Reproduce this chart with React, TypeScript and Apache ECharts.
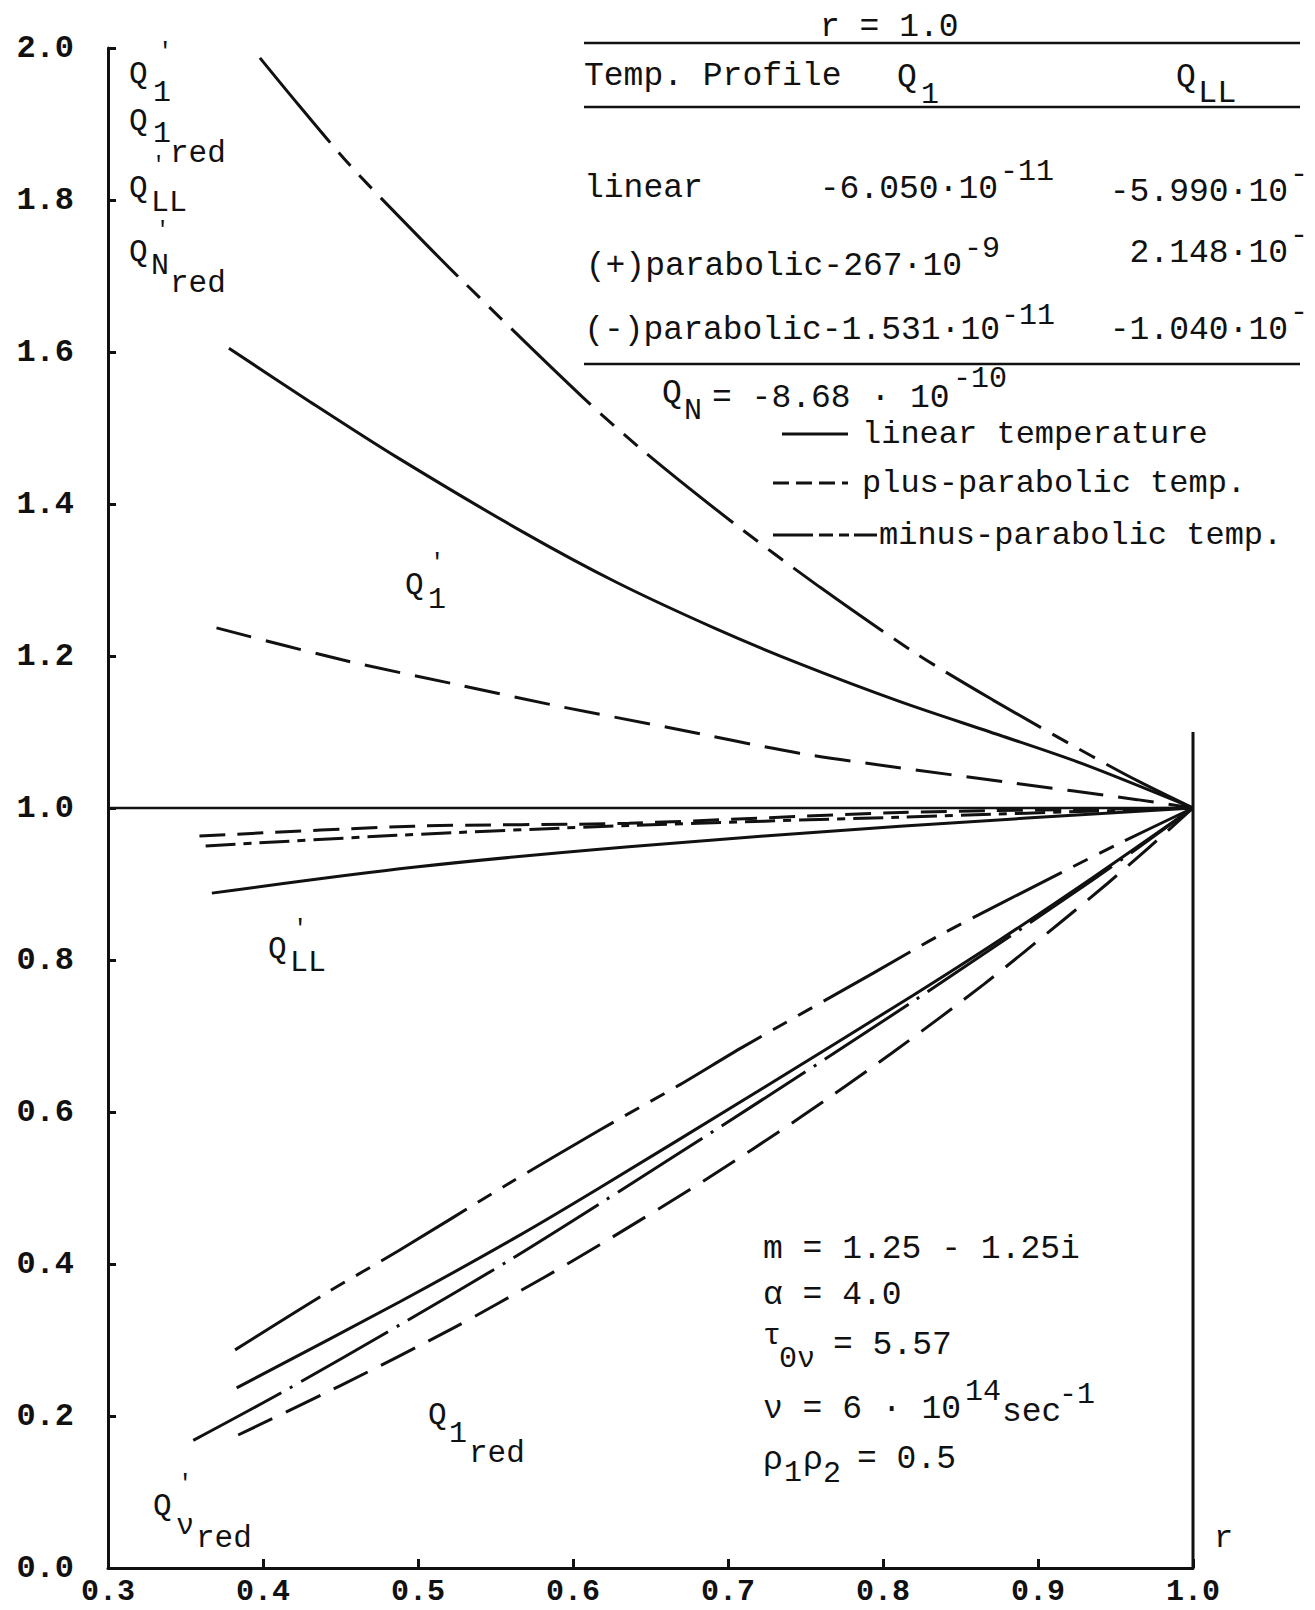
import React, { useEffect, useRef } from "react";
import * as echarts from "echarts";

// ---- data (r, Q) ----
const X_TICKS_MIN = 0.3;
const X_TICKS_MAX = 1.0;
const Y_TICKS_MIN = 0;
const Y_TICKS_MAX = 2.0;

// Q1' curves
const Q1P_LINEAR: number[][] = [[0.378, 1.605], [0.43, 1.535], [0.486, 1.462], [0.567, 1.364], [0.628, 1.297], [0.692, 1.236], [0.746, 1.19], [0.811, 1.14], [0.875, 1.096], [0.929, 1.058], [1.0, 1.0]];
const Q1P_PLUS: number[][] = [[0.37, 1.237], [0.451, 1.195], [0.526, 1.162], [0.593, 1.133], [0.664, 1.105], [0.746, 1.072], [0.807, 1.054], [0.88, 1.034], [0.964, 1.011], [1.0, 1.0]];
const Q1P_MINUS: number[][] = [[0.398, 1.987], [0.423, 1.925], [0.456, 1.846], [0.495, 1.763], [0.528, 1.695], [0.606, 1.541], [0.647, 1.467], [0.701, 1.379], [0.759, 1.291], [0.82, 1.205], [0.871, 1.142], [0.934, 1.069], [0.965, 1.035], [1.0, 1.0]];

// Q_LL' curves
const QLLP_LINEAR: number[][] = [[0.367, 0.888], [0.497, 0.922], [0.636, 0.949], [0.811, 0.976], [1.0, 1.0]];
const QLLP_PLUS: number[][] = [[0.359, 0.963], [0.497, 0.976], [0.636, 0.98], [0.811, 0.994], [1.0, 1.0]];
const QLLP_MINUS: number[][] = [[0.363, 0.95], [0.486, 0.964], [0.636, 0.977], [0.811, 0.988], [1.0, 1.0]];

// Q1red curves
const Q1RED_LINEAR: number[][] = [[0.383, 0.237], [0.488, 0.35], [0.564, 0.436], [0.617, 0.5], [0.719, 0.627], [0.819, 0.753], [0.875, 0.826], [0.935, 0.908], [1.0, 1.0]];
const Q1RED_PLUS: number[][] = [[0.384, 0.175], [0.45, 0.24], [0.523, 0.316], [0.581, 0.382], [0.617, 0.425], [0.684, 0.509], [0.746, 0.592], [0.806, 0.678], [0.865, 0.768], [0.916, 0.852], [0.945, 0.901], [0.971, 0.947], [1.0, 1.0]];
const Q1RED_MINUS: number[][] = [[0.382, 0.287], [0.441, 0.362], [0.488, 0.418], [0.557, 0.504], [0.617, 0.576], [0.669, 0.636], [0.71, 0.686], [0.794, 0.783], [0.837, 0.833], [0.916, 0.916], [0.953, 0.954], [1.0, 1.0]];

// Q'_nu red
const QNU_RED: number[][] = [[0.355, 0.168], [0.413, 0.232], [0.49, 0.322], [0.559, 0.405], [0.617, 0.479], [0.719, 0.612], [0.819, 0.745], [0.935, 0.905], [1.0, 1.0]];

// reference lines
const UNITY_LINE: number[][] = [[0.3, 1.0], [1.0, 1.0]];
const RIGHT_EDGE: number[][] = [[1.0, 0.0], [1.0, 1.1]];

const FONT = '"Liberation Mono", "DejaVu Sans Mono", monospace';
const INK = "#111";

const DASH_LINEAR: any = "solid";
const DASH_PLUS = [36, 15];
const DASH_MINUS = [110, 13, 18, 13, 18, 13];
const DASH_NU = [100, 10, 3, 10];

function T(x: number, y: number, text: string, size = 32, align = "left") {
  return {
    type: "text",
    x,
    y,
    silent: true,
    style: { text, fontFamily: FONT, fontSize: size, fill: INK, align, verticalAlign: "middle" },
  };
}

function L(x1: number, y1: number, x2: number, y2: number, w = 2.5, dash?: number[]) {
  return {
    type: "line",
    silent: true,
    shape: { x1, y1, x2, y2 },
    style: { stroke: INK, lineWidth: w, lineDash: dash, lineCap: "butt" },
  };
}

function curve(name: string, data: number[][], dash: any, width = 3) {
  return {
    name,
    type: "line",
    data,
    smooth: 0.3,
    symbol: "none",
    silent: true,
    lineStyle: { color: INK, width, type: dash, cap: "butt" },
  };
}

export default function App() {
  const ref = useRef<HTMLDivElement>(null);

  useEffect(() => {
    if (!ref.current) return;
    const chart = echarts.init(ref.current, null, { renderer: "svg" });

    const graphic: any[] = [
      // top-left axis symbol stack
      T(129, 74, "Q", 31), T(158, 52, "′", 24), T(153, 93, "1", 30),
      T(129, 121, "Q", 31), T(153, 134, "1", 30), T(152, 165, "′", 22), T(170, 153, "red", 31),
      T(129, 188, "Q", 31), T(151, 203, "LL", 30),
      T(156, 230, "′", 22), T(129, 252, "Q", 31), T(151, 266, "N", 30), T(170, 283, "red", 31),

      // table
      T(820, 27, "r = 1.0", 33),
      L(584, 43, 1300, 43, 2.5),
      T(584, 76, "Temp. Profile", 33),
      T(897, 77, "Q", 33), T(921, 95, "1", 30),
      T(1176, 77, "Q", 33), T(1198, 93, "LL", 32),
      L(584, 107, 1300, 107, 2.5),
      T(584, 188, "linear", 33),
      T(998, 189, "-6.050·10", 33, "right"), T(1000, 172, "-11", 30),
      T(1288, 192, "-5.990·10", 33, "right"), T(1290, 175, "-", 30),
      T(962, 266, "(+)parabolic-267·10", 33, "right"), T(964, 249, "-9", 30),
      T(1288, 253, "2.148·10", 33, "right"), T(1290, 236, "-", 30),
      T(1000, 330, "(-)parabolic-1.531·10", 33, "right"), T(1001, 316, "-11", 30),
      T(1288, 330, "-1.040·10", 33, "right"), T(1290, 313, "-", 30),
      L(584, 364, 1300, 364, 2.5),
      T(662, 393, "Q", 33), T(684, 411, "N", 30), T(712, 398, "= -8.68 · 10", 33), T(953, 379, "-10", 30),

      // legend
      L(782, 434, 848, 434, 3),
      T(862, 434, "linear temperature", 32),
      L(773, 483, 848, 483, 3, [16, 7]),
      T(862, 483, "plus-parabolic temp.", 32),
      L(773, 535, 877, 535, 3, [40, 6, 14, 6, 10, 5, 30]),
      T(879, 535, "minus-parabolic temp.", 32),

      // parameters
      T(763, 1249, "m = 1.25 - 1.25i", 33),
      T(763, 1295, "α = 4.0", 33),
      T(763, 1336, "τ", 30), T(779, 1359, "0ν", 30), T(833, 1345, "= 5.57", 33),
      T(763, 1409, "ν = 6 · 10", 33), T(965, 1392, "14", 30), T(1002, 1412, "sec", 33), T(1059, 1395, "-1", 30),
      T(763, 1460, "ρ", 33), T(784, 1473, "1", 30), T(803, 1460, "ρ", 33), T(823, 1474, "2", 30), T(857, 1459, "= 0.5", 33),

      // curve labels
      T(405, 585, "Q", 31), T(430, 563, "′", 24), T(428, 600, "1", 30),
      T(268, 949, "Q", 31), T(293, 929, "′", 24), T(290, 963, "LL", 30),
      T(428, 1415, "Q", 31), T(449, 1434, "1", 30), T(469, 1453, "red", 31),
      T(153, 1506, "Q", 31), T(178, 1484, "′", 24), T(176, 1526, "ν", 30), T(196, 1538, "red", 31),

      // axis name
      T(1214, 1538, "r", 32),
    ];

    const option: any = {
      animation: false,
      backgroundColor: "#fff",
      grid: { left: 108, top: 48, width: 1085, height: 1520, containLabel: false },
      xAxis: {
        type: "value",
        min: X_TICKS_MIN,
        max: X_TICKS_MAX,
        interval: 0.1,
        splitLine: { show: false },
        axisLine: { onZero: false, lineStyle: { color: INK, width: 3 } },
        axisTick: { inside: true, length: 9, lineStyle: { color: INK, width: 3 } },
        axisLabel: {
          margin: 9,
          color: INK,
          fontFamily: FONT,
          fontSize: 30,
          fontWeight: "bold",
          formatter: (v: number) => v.toFixed(1),
        },
      },
      yAxis: {
        type: "value",
        min: Y_TICKS_MIN,
        max: Y_TICKS_MAX,
        interval: 0.2,
        splitLine: { show: false },
        axisLine: { onZero: false, lineStyle: { color: INK, width: 3 } },
        axisTick: { inside: true, length: 8, lineStyle: { color: INK, width: 3 } },
        axisLabel: {
          margin: 34,
          color: INK,
          fontFamily: FONT,
          fontSize: 32,
          fontWeight: "bold",
          formatter: (v: number) => v.toFixed(1),
        },
      },
      series: [
        curve("unity", UNITY_LINE, "solid", 2.5),
        curve("edge r=1", RIGHT_EDGE, "solid", 3),
        curve("Q1' linear", Q1P_LINEAR, DASH_LINEAR),
        curve("Q1' plus-parabolic", Q1P_PLUS, DASH_PLUS),
        curve("Q1' minus-parabolic", Q1P_MINUS, DASH_MINUS),
        curve("QLL' linear", QLLP_LINEAR, DASH_LINEAR),
        curve("QLL' plus-parabolic", QLLP_PLUS, [26, 12]),
        curve("QLL' minus-parabolic", QLLP_MINUS, [30, 8, 8, 8]),
        curve("Q1red linear", Q1RED_LINEAR, DASH_LINEAR),
        curve("Q1red plus-parabolic", Q1RED_PLUS, [38, 15]),
        curve("Q1red minus-parabolic", Q1RED_MINUS, [100, 13, 16, 13, 16, 13]),
        curve("Q'nu red", QNU_RED, DASH_NU),
      ],
      graphic,
    };

    chart.setOption(option);
    return () => chart.dispose();
  }, []);

  return (
    <div
      ref={ref}
      style={{ position: "absolute", left: 0, top: 0, width: 1315, height: 1610, background: "#fff" }}
    />
  );
}
